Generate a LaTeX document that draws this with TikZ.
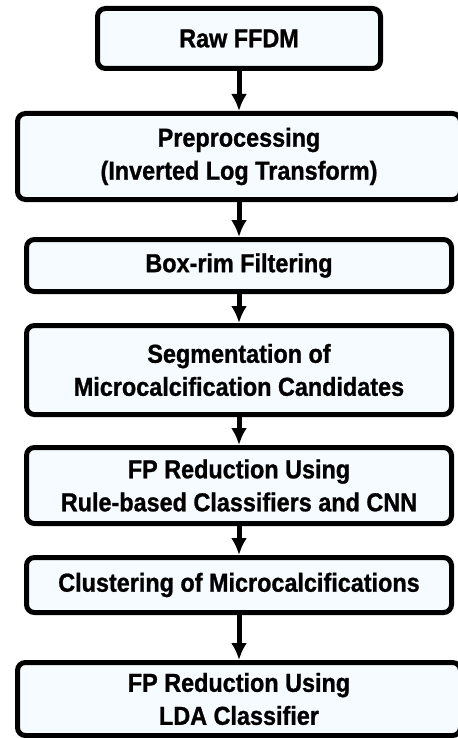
\documentclass[tikz,border=0pt]{standalone}
\usepackage{fontspec}
\setmainfont{Liberation Sans}
\newfontfamily\stagefont{Liberation Sans}[FakeStretch=0.9, BoldFeatures={FakeBold=1}]
\usetikzlibrary{arrows.meta}
\definecolor{boxfill}{rgb}{0.96, 0.985, 0.995}
\tikzset{stage/.style = {draw, line width=2.5pt, rounded corners=4pt, fill=boxfill,
                         align=center, inner sep=0,
                         font=\stagefont\fontsize{13}{16.5}\selectfont\bfseries}}
\tikzset{flow/.style = {line width=2.5pt, -{Latex[length=8.5pt, width=8pt]}}}

\begin{document}
\begin{tikzpicture}[x=0.5pt, y=-0.5pt]
    \useasboundingbox (0, 0) rectangle (458, 738);

    \node [stage, minimum width=141.5pt, minimum height=30pt] (raw) at (239, 38.5) {Raw FFDM};
    \node [stage, minimum width=221.5pt, minimum height=43pt] (pre) at (239, 156.5) {Preprocessing\\(Inverted Log Transform)};
    \node [stage, minimum width=212.5pt, minimum height=26pt] (rim) at (239, 265.5) {Box-rim Filtering};
    \node [stage, minimum width=212.5pt, minimum height=44.5pt] (seg) at (239, 370) {Segmentation of\\Microcalcification Candidates};
    \node [stage, minimum width=212.5pt, minimum height=38pt] (fpr) at (239, 485.5) {FP Reduction Using\\Rule-based Classifiers and CNN};
    \node [stage, minimum width=212.5pt, minimum height=27.5pt] (clu) at (239, 585) {Clustering of Microcalcifications};
    \node [stage, minimum width=221.5pt, minimum height=36.5pt] (lda) at (239, 699) {FP Reduction Using\\LDA Classifier};

    \draw [flow] (raw) -- (pre);
    \draw [flow] (pre) -- (rim);
    \draw [flow] (rim) -- (seg);
    \draw [flow] (seg) -- (fpr);
    \draw [flow] (fpr) -- (clu);
    \draw [flow] (clu) -- (lda);
\end{tikzpicture}
\end{document}
